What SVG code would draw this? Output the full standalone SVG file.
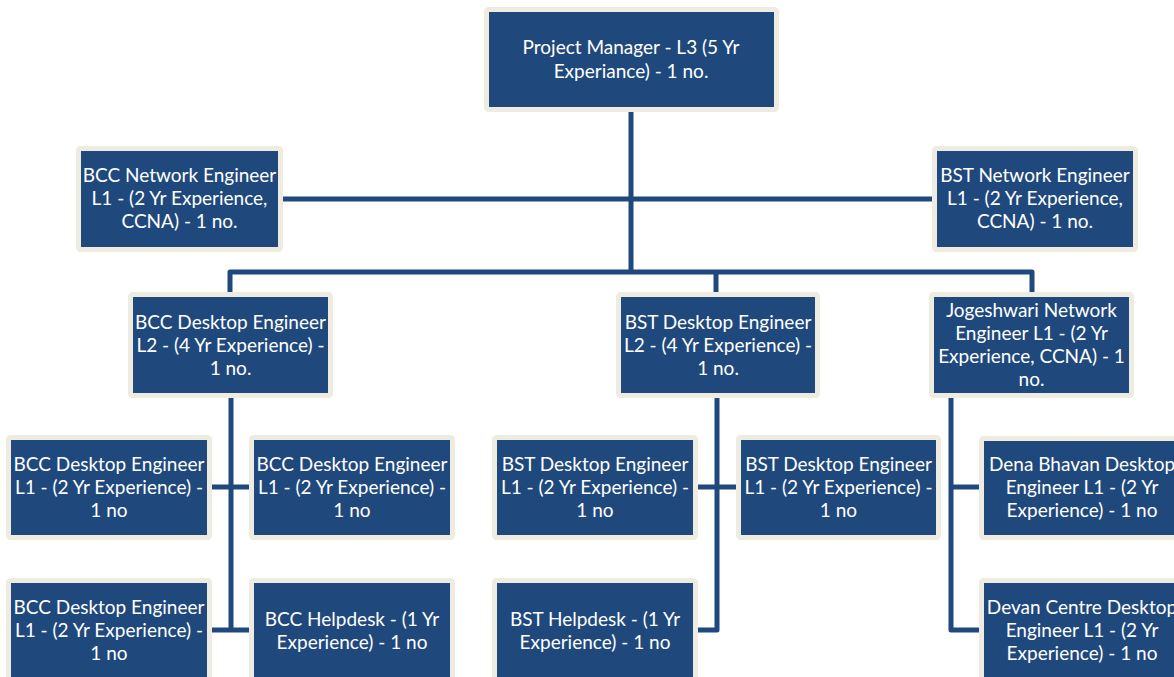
<svg xmlns="http://www.w3.org/2000/svg" width="1174" height="677" viewBox="0 0 1174 677">
<style>
.box{fill:#1F497D;stroke:#EEECE1;stroke-width:5;}
.t{font-family:Lato,"Liberation Sans",sans-serif;font-size:19px;fill:#FFFFFF;text-anchor:middle;}
.c{fill:none;stroke:#1F497D;stroke-width:5;stroke-linejoin:round;}
</style>
<rect width="1174" height="677" fill="#FFFFFF"/>
<g id="connectors">
<path class="c" d="M631 109 V272"/>
<path class="c" d="M280 199 H935"/>
<path class="c" d="M230 295 V272 H1032 V295"/>
<path class="c" d="M716 272 V295"/>
<path class="c" d="M231 395 V630"/>
<path class="c" d="M210 487 H252"/>
<path class="c" d="M210 630 H252"/>
<path class="c" d="M717 395 V630 H695"/>
<path class="c" d="M695 487 H739"/>
<path class="c" d="M951 395 V630 H982"/>
<path class="c" d="M951 487 H982"/>
</g>
<g id="n-pm"><rect class="box" x="486.5" y="9.5" width="290" height="100" rx="2"/>
<text class="t" x="631" y="54">Project Manager - L3 (5 Yr</text><text class="t" x="631" y="78">Experiance) - 1 no.</text></g>
<g id="n-bcc-net"><rect class="box" x="78.5" y="148.5" width="202" height="101" rx="2"/>
<text class="t" x="179.5" y="182">BCC Network Engineer</text><text class="t" x="179.5" y="205">L1 - (2 Yr Experience,</text><text class="t" x="179.5" y="228">CCNA) - 1 no.</text></g>
<g id="n-bst-net"><rect class="box" x="934.5" y="148.5" width="201" height="101" rx="2"/>
<text class="t" x="1035" y="182">BST Network Engineer</text><text class="t" x="1035" y="205">L1 - (2 Yr Experience,</text><text class="t" x="1035" y="228">CCNA) - 1 no.</text></g>
<g id="n-bcc-de2"><rect class="box" x="130.5" y="294.5" width="200" height="101" rx="2"/>
<text class="t" x="230.5" y="329">BCC Desktop Engineer</text><text class="t" x="230.5" y="352">L2 - (4 Yr Experience) -</text><text class="t" x="230.5" y="375">1 no.</text></g>
<g id="n-bst-de2"><rect class="box" x="618.5" y="294.5" width="199" height="101" rx="2"/>
<text class="t" x="718" y="329">BST Desktop Engineer</text><text class="t" x="718" y="352">L2 - (4 Yr Experience) -</text><text class="t" x="718" y="375">1 no.</text></g>
<g id="n-jog"><rect class="box" x="931.5" y="294.5" width="200" height="101" rx="2"/>
<text class="t" x="1031.5" y="317">Jogeshwari Network</text><text class="t" x="1031.5" y="340">Engineer L1 - (2 Yr</text><text class="t" x="1031.5" y="363">Experience, CCNA) - 1</text><text class="t" x="1031.5" y="386">no.</text></g>
<g id="n-bcc-de1a"><rect class="box" x="8.5" y="437.5" width="201" height="100" rx="2"/>
<text class="t" x="109" y="471">BCC Desktop Engineer</text><text class="t" x="109" y="494">L1 - (2 Yr Experience) -</text><text class="t" x="109" y="517">1 no</text></g>
<g id="n-bcc-de1b"><rect class="box" x="251.5" y="437.5" width="201" height="100" rx="2"/>
<text class="t" x="352" y="471">BCC Desktop Engineer</text><text class="t" x="352" y="494">L1 - (2 Yr Experience) -</text><text class="t" x="352" y="517">1 no</text></g>
<g id="n-bst-de1a"><rect class="box" x="494.5" y="437.5" width="201" height="100" rx="2"/>
<text class="t" x="595" y="471">BST Desktop Engineer</text><text class="t" x="595" y="494">L1 - (2 Yr Experience) -</text><text class="t" x="595" y="517">1 no</text></g>
<g id="n-bst-de1b"><rect class="box" x="738.5" y="437.5" width="200" height="100" rx="2"/>
<text class="t" x="838.5" y="471">BST Desktop Engineer</text><text class="t" x="838.5" y="494">L1 - (2 Yr Experience) -</text><text class="t" x="838.5" y="517">1 no</text></g>
<g id="n-dena"><rect class="box" x="981.5" y="438.5" width="201" height="99" rx="2"/>
<text class="t" x="1082" y="471">Dena Bhavan Desktop</text><text class="t" x="1082" y="494">Engineer L1 - (2 Yr</text><text class="t" x="1082" y="517">Experience) - 1 no</text></g>
<g id="n-bcc-de1c"><rect class="box" x="8.5" y="580.5" width="201" height="100" rx="2"/>
<text class="t" x="109" y="614">BCC Desktop Engineer</text><text class="t" x="109" y="637">L1 - (2 Yr Experience) -</text><text class="t" x="109" y="660">1 no</text></g>
<g id="n-bcc-help"><rect class="box" x="251.5" y="580.5" width="201" height="100" rx="2"/>
<text class="t" x="352" y="626">BCC Helpdesk - (1 Yr</text><text class="t" x="352" y="649">Experience) - 1 no</text></g>
<g id="n-bst-help"><rect class="box" x="494.5" y="580.5" width="201" height="100" rx="2"/>
<text class="t" x="595" y="626">BST Helpdesk - (1 Yr</text><text class="t" x="595" y="649">Experience) - 1 no</text></g>
<g id="n-devan"><rect class="box" x="981.5" y="580.5" width="201" height="100" rx="2"/>
<text class="t" x="1082" y="614">Devan Centre Desktop</text><text class="t" x="1082" y="637">Engineer L1 - (2 Yr</text><text class="t" x="1082" y="660">Experience) - 1 no</text></g>
</svg>
